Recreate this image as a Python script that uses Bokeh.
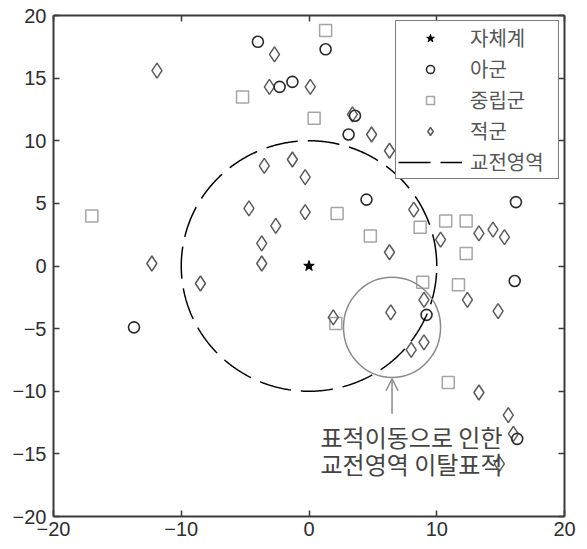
import numpy as np
from bokeh.plotting import figure
from bokeh.models import (Range1d, FixedTicker, LinearAxis, Legend, LegendItem,
                          Arrow, OpenHead)
from bokeh.core.properties import value
from bokeh.embed import file_html
from bokeh.resources import INLINE

# ---- data ----
own_x = [0.0]
own_y = [0.0]

friendly_x = [-4.0, 1.3, -2.3, -1.3, 3.6, 3.1, 4.5, 16.2, -13.7, 9.2, 16.1, 16.3]
friendly_y = [17.9, 17.3, 14.3, 14.7, 12.0, 10.5, 5.3, 5.1, -4.9, -3.9, -1.2, -13.8]

neutral_x = [1.3, -5.2, 0.4, 2.2, 4.8, -17.0, 8.7, 10.7, 12.3, 12.3, 8.9, 11.7, 2.1, 10.9]
neutral_y = [18.8, 13.5, 11.8, 4.2, 2.4, 4.0, 3.1, 3.6, 3.6, 1.0, -1.3, -1.5, -4.6, -9.3]

enemy_x = [-11.9, -2.7, -3.1, 0.1, 3.4, 4.9, 6.3, 16.8, -3.5, -1.3, -0.3, -4.7, -0.3,
           -2.6, -3.7, -3.7, -12.3, -8.5, 8.2, 10.3, 6.3, 13.3, 14.4, 15.3, 6.4, 9.0,
           9.0, 8.0, 1.9, 12.4, 14.8, 13.3, 15.6, 16.0, 14.9]
enemy_y = [15.6, 16.9, 14.3, 14.3, 12.1, 10.5, 9.2, 8.1, 8.0, 8.5, 7.1, 4.6, 4.3,
           3.2, 1.8, 0.2, 0.2, -1.4, 4.5, 2.1, 1.1, 2.6, 2.9, 2.3, -3.7, -2.7,
           -6.1, -6.7, -4.1, -2.7, -3.6, -10.1, -11.9, -13.4, -15.8]

zone_cx = 0.0
zone_cy = 0.0
zone_radius = 10.0

moved_x = [6.5]
moved_y = [-4.9]
moved_w = [7.6]
moved_h = [8.0]

arrow_x = 6.5
arrow_y_start = -11.8
arrow_y_end = -9.0

note_x = [0.9, 0.9]
note_y = [-13.6, -15.8]
note_text = ["표적이동으로 인한", "교전영역 이탈표적"]

legend_labels = ["자체계", "아군", "중립군", "적군", "교전영역"]

x_ticks = [-20, -10, 0, 10, 20]
y_ticks = [-20, -15, -10, -5, 0, 5, 10, 15, 20]

# ---- figure ----
p = figure(width=580, height=549, x_range=Range1d(-20, 20), y_range=Range1d(-20, 20),
           output_backend="svg", toolbar_location=None,
           min_border_left=53, min_border_right=16, min_border_top=15, min_border_bottom=33)
p.grid.visible = False
p.outline_line_color = None

AX = "#3a3a3a"


def style_axis(ax, ticks, labels=True):
    ax.ticker = FixedTicker(ticks=ticks)
    ax.axis_line_color = AX
    ax.axis_line_width = 2
    ax.major_tick_in = 6
    ax.major_tick_out = 0
    ax.major_tick_line_color = AX
    ax.major_tick_line_width = 1.5
    ax.minor_tick_line_color = None
    if labels:
        ax.major_label_text_font = "Liberation Sans"
        ax.major_label_text_font_size = "20px"
        ax.major_label_text_color = "#2e2e2e"
    else:
        ax.major_label_text_font_size = "1px"
        ax.major_label_text_color = None
        ax.major_label_standoff = 0


style_axis(p.xaxis[0], x_ticks)
p.xaxis[0].major_label_standoff = 5
style_axis(p.yaxis[0], y_ticks)
p.yaxis[0].major_label_standoff = 7

top_ax = LinearAxis()
style_axis(top_ax, x_ticks, labels=False)
p.add_layout(top_ax, "above")
right_ax = LinearAxis()
style_axis(right_ax, y_ticks, labels=False)
p.add_layout(right_ax, "right")

# ---- marks ----
r_neutral = p.scatter(neutral_x, neutral_y, marker="square", size=12,
                      fill_color=None, line_color="#a5a5a5", line_width=1.5)
r_enemy = p.scatter(enemy_x, enemy_y, marker="diamond", size=15,
                    fill_color=None, line_color="#5a5a5a", line_width=1.5)
r_friend = p.scatter(friendly_x, friendly_y, marker="circle", size=11,
                     fill_color=None, line_color="#2a2a2a", line_width=1.6)
r_own = p.scatter(own_x, own_y, marker="star", size=11,
                  fill_color="black", line_color="black", line_width=1)

theta = np.linspace(0.0, 2.0 * np.pi, 721)
r_zone = p.line(zone_cx + zone_radius * np.cos(theta), zone_cy + zone_radius * np.sin(theta),
                line_color="black", line_width=1.5, line_dash="32 10")

p.ellipse(x=moved_x, y=moved_y, width=moved_w, height=moved_h,
          fill_color=None, line_color="#8a8a8a", line_width=1.5)

p.add_layout(Arrow(end=OpenHead(size=12, line_color="#8a8a8a", line_width=1.5),
                   x_start=arrow_x, y_start=arrow_y_start,
                   x_end=arrow_x, y_end=arrow_y_end,
                   line_color="#8a8a8a", line_width=1.5))

p.text(x=note_x, y=note_y, text=note_text, text_font=value("Noto Sans CJK KR"),
       text_font_size="24px", text_color="#444444", text_align="left",
       text_baseline="middle")

# ---- legend ----
legend = Legend(items=[
    LegendItem(label=legend_labels[0], renderers=[r_own]),
    LegendItem(label=legend_labels[1], renderers=[r_friend]),
    LegendItem(label=legend_labels[2], renderers=[r_neutral]),
    LegendItem(label=legend_labels[3], renderers=[r_enemy]),
    LegendItem(label=legend_labels[4], renderers=[r_zone]),
], location="top_right", margin=5, padding=2, spacing=2, label_height=27,
    glyph_height=20, glyph_width=64, label_standoff=8, label_width=86,
    border_line_color="black", border_line_width=1.2, background_fill_color="white",
    background_fill_alpha=1.0, label_text_font="Noto Sans CJK KR",
    label_text_font_size="20px", label_text_color="#555555")
p.add_layout(legend)

open("out.html", "w").write(file_html(p, INLINE))
